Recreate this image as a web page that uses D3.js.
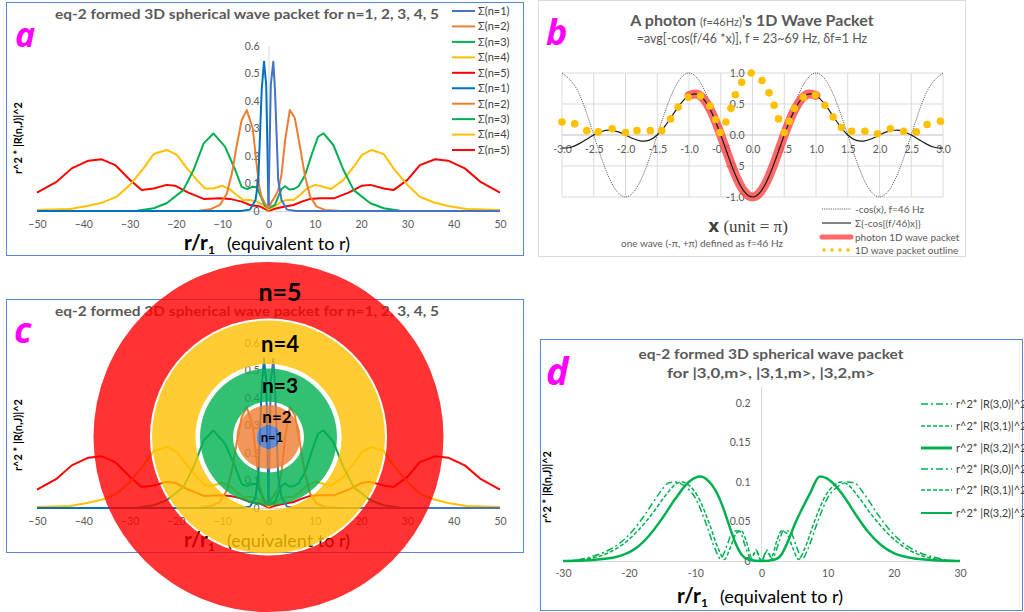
<!DOCTYPE html>
<html>
<head>
<meta charset="utf-8">
<script src="https://cdn.jsdelivr.net/npm/d3@7"></script>
<style>
  body { margin: 0; background: #fff; }
  svg { display: block; font-family: Lato, "Open Sans", sans-serif; }
</style>
</head>
<body>
<svg id="fig" width="1024" height="612"></svg>
<script>
// ---------- panel a / c data : r/r1 vs r^2*|R(n,J)|^2 ----------
var radialNames = ["Σ(n=1)", "Σ(n=2)", "Σ(n=3)", "Σ(n=4)", "Σ(n=5)"];
var radialColorsPos = ["#4472C4", "#ED7D31", "#00B050", "#FFC000", "#FF0000"];
var radialColorsNeg = ["#0070C0", "#ED7D31", "#00B050", "#FFC000", "#FF0000"];
var radialXTicks = [-50, -40, -30, -20, -10, 0, 10, 20, 30, 40, 50];
var radialYTicks = [0, 0.1, 0.2, 0.3, 0.4, 0.5, 0.6];

// right half (r >= 0)
var n1Pos = [[0,0.02],[0.5,0.46],[1.04,0.543],[1.4,0.44],[2.1,0.113],[2.8,0.04],[4,0.005],[6,0],[50,0]];
var n2Pos = [[0,0.01],[0.7,0.034],[1.4,0.052],[2.1,0.076],[2.8,0.13],[3.6,0.258],[4.6,0.367],[5.7,0.337],[6.8,0.234],[7.9,0.125],[9,0.052],[10.4,0.016],[12.2,0.004],[15,0.001],[50,0]];
var n3Pos = [[0,0.01],[1.4,0.022],[2.1,0.052],[2.8,0.08],[3.6,0.09],[4.5,0.078],[5.5,0.08],[6.5,0.09],[7.9,0.13],[9.3,0.204],[10.7,0.27],[11.9,0.282],[14,0.24],[16.2,0.149],[18.4,0.076],[22,0.028],[24.9,0.01],[28.4,0.001],[50,0]];
var n4Pos = [[0,0.004],[1.8,0.022],[2.8,0.034],[3.9,0.04],[5.4,0.04],[6.8,0.058],[8.3,0.082],[10.1,0.095],[11.8,0.088],[13.5,0.08],[16.2,0.113],[18.4,0.161],[20.2,0.204],[22.3,0.222],[24.9,0.207],[27,0.155],[30,0.095],[32.7,0.052],[35.6,0.032],[38.8,0.018],[42.7,0.007],[50,0.004]];
var n5Pos = [[0,0.001],[1.8,0.01],[3.6,0.016],[5.4,0.022],[7.2,0.034],[9,0.044],[11.1,0.046],[14.1,0.046],[17.3,0.067],[20.2,0.092],[22,0.095],[24.9,0.082],[27,0.076],[30,0.113],[32.7,0.167],[36,0.188],[38.8,0.183],[42.4,0.155],[45.7,0.107],[50,0.067]];
// left half (r <= 0)
var n1Neg = [[-50,0],[-6,0],[-4,0.005],[-2.8,0.04],[-2.2,0.113],[-1.47,0.44],[-0.97,0.543],[-0.5,0.46],[0,0.02]];
var n2Neg = [[-50,0],[-15,0.001],[-12.6,0.006],[-10.5,0.022],[-9,0.064],[-7.9,0.137],[-6.9,0.234],[-5.8,0.33],[-4.7,0.367],[-3.4,0.3],[-2.5,0.16],[-2,0.088],[-1.5,0.052],[-0.8,0.028],[0,0.01]];
var n3Neg = [[-50,0],[-28.4,0.001],[-24.8,0.01],[-22,0.028],[-18.4,0.076],[-16.2,0.149],[-14,0.246],[-11.9,0.282],[-9.4,0.234],[-7.2,0.15],[-5.8,0.088],[-4.7,0.08],[-3.4,0.088],[-2.5,0.085],[-1.8,0.058],[-0.8,0.02],[0,0.01]];
var n4Neg = [[-50,0.004],[-42.8,0.007],[-39.2,0.018],[-35.6,0.032],[-32.8,0.052],[-29.9,0.095],[-27,0.155],[-24.8,0.207],[-22,0.222],[-19.8,0.204],[-17.6,0.155],[-15.5,0.113],[-13.7,0.082],[-11.9,0.082],[-10.1,0.092],[-8.3,0.079],[-6.9,0.058],[-5.4,0.04],[-4,0.04],[-2.5,0.034],[-1.1,0.022],[0,0.004]];
var n5Neg = [[-50,0.067],[-45.7,0.107],[-42.5,0.155],[-38.9,0.183],[-36,0.188],[-33.1,0.167],[-29.9,0.113],[-27.4,0.076],[-24.8,0.082],[-22,0.095],[-20.2,0.092],[-17.3,0.067],[-14,0.044],[-10.5,0.046],[-8.3,0.044],[-5.8,0.034],[-4,0.022],[-1.8,0.016],[0,0.001]];

// ---------- panel b data : x (unit = pi) ----------
var packetXTicks = [-3, -2.5, -2, -1.5, -1, -0.5, 0, 0.5, 1, 1.5, 2, 2.5, 3];
var packetYTicks = [-1, -0.5, 0, 0.5, 1];
var cosX = [-3,-2.75,-2.5,-2.25,-2,-1.75,-1.5,-1.25,-1,-0.75,-0.5,-0.25,0,0.25,0.5,0.75,1,1.25,1.5,1.75,2,2.25,2.5,2.75,3];
var cosY = [1,0.707,0,-0.707,-1,-0.707,0,0.707,1,0.707,0,-0.707,-1,-0.707,0,0.707,1,0.707,0,-0.707,-1,-0.707,0,0.707,1];
var sumX = [-3,-2.875,-2.75,-2.625,-2.5,-2.375,-2.25,-2.125,-2,-1.875,-1.75,-1.625,-1.5,-1.375,-1.25,-1.125,-1,-0.875,-0.75,-0.625,-0.5,-0.375,-0.25,-0.125,0,
            0.125,0.25,0.375,0.5,0.625,0.75,0.875,1,1.125,1.25,1.375,1.5,1.625,1.75,1.875,2,2.125,2.25,2.375,2.5,2.625,2.75,2.875,3];
var sumY = [-0.212,-0.201,-0.151,-0.077,0,0.057,0.077,0.054,0,-0.061,-0.098,-0.083,0,0.147,0.333,0.513,0.637,0.659,0.555,0.324,0,-0.361,-0.689,-0.918,-1,
            -0.918,-0.689,-0.361,0,0.324,0.555,0.659,0.637,0.513,0.333,0.147,0,-0.083,-0.098,-0.061,0,0.054,0.077,0.057,0,-0.077,-0.151,-0.201,-0.212];
var photonX = [-1,-0.875,-0.75,-0.625,-0.5,-0.375,-0.25,-0.125,0,0.125,0.25,0.375,0.5,0.625,0.75,0.875,1];
var photonY = [0.637,0.659,0.555,0.324,0,-0.361,-0.689,-0.918,-1,-0.918,-0.689,-0.361,0,0.324,0.555,0.659,0.637];
var outlineX = [-3,-2.8,-2.61,-2.43,-2.21,-2,-1.82,-1.61,-1.43,-1.29,-1.17,-1.01,-0.82,-0.67,-0.58,-0.51,-0.42,-0.34,-0.27,-0.17,-0.02,
                0.15,0.26,0.34,0.41,0.5,0.58,0.66,0.8,0.99,1.14,1.27,1.4,1.56,1.77,1.97,2.17,2.38,2.58,2.75,2.96];
var outlineY = [0.21,0.18,0.07,0.05,0.1,0.04,0.07,0.07,0.07,0.26,0.45,0.61,0.63,0.47,0.25,0.04,0.21,0.43,0.65,0.85,1.0,
                0.88,0.68,0.48,0.26,0.04,0.22,0.43,0.61,0.64,0.48,0.29,0.12,0.06,0.06,0.02,0.1,0.06,0.05,0.17,0.22];
var packetLegend = ["-cos(x), f=46 Hz", "Σ{-cos[(f/46)x]}", "photon 1D wave packet", "1D wave packet outline"];

// ---------- panel c : shells ----------
var shellNames = ["n=5", "n=4", "n=3", "n=2", "n=1"];
var shellColors = ["#FF0000", "#FFC000", "#00B050", "#ED7D31", "#4472C4"];
var shellOuter = [175, 116.5, 68.5, 32, 12];
var shellInner = [118.5, 73, 35.5, 12, 0];

// ---------- panel d data : |3,l,m> ----------
var d30 = [[-30,0],[-27.5,0.002],[-25.5,0.006],[-23.5,0.012],[-21.5,0.022],[-19.5,0.038],[-17.5,0.06],[-15.5,0.085],[-14,0.099],[-13,0.1],[-11.5,0.094],[-10,0.08],[-8.5,0.05],[-7,0.015],[-6.2,0.003],[-5.2,0.02],[-4.3,0.038],[-3.3,0.038],[-2.5,0.02],[-1.6,0.003],[-0.8,0.014],[0,0],
           [0.8,0.014],[1.6,0.003],[2.5,0.02],[3.3,0.038],[4.3,0.038],[5.2,0.02],[6.2,0.003],[7,0.015],[8.5,0.05],[10,0.08],[11.5,0.094],[13,0.1],[14,0.099],[15.5,0.085],[17.5,0.06],[19.5,0.038],[21.5,0.022],[23.5,0.012],[25.5,0.006],[27.5,0.002],[30,0]];
var d31 = [[-30,0],[-27,0.002],[-24.5,0.006],[-22.5,0.013],[-20.5,0.024],[-18.5,0.04],[-16.5,0.06],[-14.5,0.083],[-13,0.097],[-12,0.1],[-11,0.096],[-9.5,0.08],[-8,0.05],[-6.5,0.015],[-5.6,0.002],[-4.8,0.015],[-3.8,0.035],[-3,0.038],[-2.3,0.025],[-1.5,0.005],[-0.8,0.012],[0,0],
           [0.8,0.012],[1.5,0.005],[2.3,0.025],[3,0.038],[3.8,0.035],[4.8,0.015],[5.6,0.002],[6.5,0.015],[8,0.05],[9.5,0.08],[11,0.096],[12,0.1],[13,0.097],[14.5,0.083],[16.5,0.06],[18.5,0.04],[20.5,0.024],[22.5,0.013],[24.5,0.006],[27,0.002],[30,0]];
var d32 = [[-30,0],[-26,0.001],[-22,0.005],[-19,0.016],[-17,0.032],[-15,0.054],[-13,0.079],[-11,0.1],[-9.2,0.107],[-8,0.101],[-7,0.09],[-6,0.072],[-5,0.048],[-4,0.024],[-3,0.008],[-2,0.002],[0,0],
           [2,0.002],[3,0.008],[4,0.025],[5,0.046],[6,0.064],[7.3,0.085],[8.8,0.107],[9.8,0.105],[11,0.097],[12.6,0.08],[14.3,0.058],[16.1,0.037],[18.1,0.02],[20,0.01],[22.5,0.004],[26,0.001],[30,0]];
var shellLegend = ["r^2* |R(3,0)|^2", "r^2* |R(3,1)|^2", "r^2* |R(3,2)|^2", "r^2* |R(3,0)|^2", "r^2* |R(3,1)|^2", "r^2* |R(3,2)|^2"];
var shellXTicks = [-30, -20, -10, 0, 10, 20, 30];
var shellYTicks = [0, 0.05, 0.1, 0.15, 0.2];

var svg = d3.select("#fig");
var tickGray = "#595959";

//Styles an axis made without tick marks, Excel look
function styleAxis(g, domainColor) {
  g.select(".domain").attr("stroke", domainColor);
  g.selectAll(".tick line").remove();
  g.selectAll(".tick text").attr("fill", tickGray).attr("font-size", 10.5)
    .attr("font-family", "Lato, sans-serif");
}

//Adds "r/r1   (equivalent to r)" axis title
function addRTitle(g, cx, y) {
  var t = g.append("text").attr("x", cx).attr("y", y).attr("text-anchor", "middle").attr("fill", "#000");
  t.append("tspan").attr("font-weight", "bold").attr("font-size", 21).text("r/r");
  t.append("tspan").attr("font-weight", "bold").attr("font-size", 12).attr("dy", 4).text("1");
  t.append("tspan").attr("font-size", 18).attr("dy", -4).attr("dx", 12).text("(equivalent  to r)");
  return t;
}

//Panel label in magenta
function addLetter(x, y, s, size) {
  svg.append("text").attr("x", x).attr("y", y).attr("font-size", size).attr("font-weight", "bold")
    .attr("font-style", "italic").attr("fill", "#FF00FF").attr("font-family", "'Open Sans', sans-serif").text(s);
}

//Draws the n=1..5 radial plot (used for a, and shifted for c)
function drawRadial(dy, withLegend) {
  var g = svg.append("g").attr("transform", "translate(0," + dy + ")");
  var x = d3.scaleLinear().domain([-50, 50]).range([37, 500]);
  var y = d3.scaleLinear().domain([0, 0.6]).range([211, 46]);

  g.append("rect").attr("x", 6.5).attr("y", 2.5).attr("width", 517).attr("height", 253)
    .attr("fill", "none").attr("stroke", "#5B87CF");

  g.append("text").attr("x", 247).attr("y", 19).attr("text-anchor", "middle")
    .attr("font-size", 14).attr("font-weight", "bold").attr("fill", tickGray)
    .attr("textLength", 384).attr("lengthAdjust", "spacingAndGlyphs")
    .text("eq-2 formed 3D spherical wave packet for n=1, 2, 3, 4, 5");

  var xa = g.append("g").attr("transform", "translate(0," + y(0) + ")")
    .call(d3.axisBottom(x).tickValues(radialXTicks).tickSize(0).tickPadding(10).tickFormat(d3.format("d")));
  styleAxis(xa, "#D9D9D9");
  var ya = g.append("g").attr("transform", "translate(" + x(0) + ",0)")
    .call(d3.axisLeft(y).tickValues(radialYTicks).tickSize(0).tickPadding(9).tickFormat(function(d){ return d === 0 ? "0" : d3.format(".1f")(d); }));
  styleAxis(ya, "#D9D9D9");

  g.append("text").attr("transform", "translate(22,138) rotate(-90)").attr("text-anchor", "middle")
    .attr("font-size", 11).attr("font-weight", "bold").attr("fill", "#000").text("r^2 *  |R(n,J)|^2");
  addRTitle(g, 267, 250);

  var line = d3.line().x(function(d){ return x(d[0]); }).y(function(d){ return y(d[1]); });
  var pos = [n1Pos, n2Pos, n3Pos, n4Pos, n5Pos];
  var neg = [n1Neg, n2Neg, n3Neg, n4Neg, n5Neg];
  // draw n=5 first so the narrow peaks sit on top
  for (var i = 4; i >= 0; i--) {
    g.append("path").datum(neg[i]).attr("d", line).attr("fill", "none")
      .attr("stroke", radialColorsNeg[i]).attr("stroke-width", 2).attr("stroke-linejoin", "round");
    g.append("path").datum(pos[i]).attr("d", line).attr("fill", "none")
      .attr("stroke", radialColorsPos[i]).attr("stroke-width", 2).attr("stroke-linejoin", "round");
  }

  if (withLegend) {
    var cols = radialColorsPos.concat(radialColorsNeg);
    var names = radialNames.concat(radialNames);
    var lg = g.append("g");
    names.forEach(function(nm, k) {
      var ly = 11 + k * 15.45;
      lg.append("line").attr("x1", 452).attr("x2", 475).attr("y1", ly).attr("y2", ly)
        .attr("stroke", cols[k]).attr("stroke-width", 2);
      lg.append("text").attr("x", 478).attr("y", ly).attr("dy", "0.35em").attr("font-size", 11)
        .attr("fill", "#404040").text(nm);
    });
  }
  return {g: g, x: x, y: y};
}

// ---------------- panel a ----------------
drawRadial(0, true);
addLetter(15, 47, "a", 34);

// ---------------- panel b ----------------
(function() {
  var g = svg.append("g");
  var x = d3.scaleLinear().domain([-3, 3]).range([562, 943]);
  var y = d3.scaleLinear().domain([-1, 1]).range([197, 73]);

  g.append("rect").attr("x", 538.5).attr("y", 0.5).attr("width", 427).attr("height", 256)
    .attr("fill", "none").attr("stroke", "#D9D9D9");

  var title = g.append("text").attr("x", 752).attr("y", 26).attr("text-anchor", "middle").attr("fill", tickGray);
  title.append("tspan").attr("font-size", 16).attr("font-weight", "bold").text("A photon ");
  title.append("tspan").attr("font-size", 11).text("(f=46Hz)");
  title.append("tspan").attr("font-size", 16).attr("font-weight", "bold").text("'s 1D Wave Packet");
  g.append("text").attr("x", 752).attr("y", 43).attr("text-anchor", "middle").attr("font-size", 12.5)
    .attr("fill", tickGray).text("=avg[-cos(f/46 *x)], f = 23~69 Hz, δf=1 Hz");

  // gridlines
  g.selectAll("line.vg").data(packetXTicks).enter().append("line")
    .attr("x1", function(d){ return x(d); }).attr("x2", function(d){ return x(d); })
    .attr("y1", y(1)).attr("y2", y(-1)).attr("stroke", "#D9D9D9");
  g.selectAll("line.hg").data(packetYTicks).enter().append("line")
    .attr("y1", function(d){ return y(d); }).attr("y2", function(d){ return y(d); })
    .attr("x1", x(-3)).attr("x2", x(3)).attr("stroke", function(d){ return d === 0 ? "#BFBFBF" : "#D9D9D9"; });

  var xa = g.append("g").attr("transform", "translate(0," + y(0) + ")")
    .call(d3.axisBottom(x).tickValues(packetXTicks).tickSize(0).tickPadding(11).tickFormat(d3.format(".1f")));
  styleAxis(xa, "none");
  var ya = g.append("g").attr("transform", "translate(" + x(0) + ",0)")
    .call(d3.axisLeft(y).tickValues(packetYTicks).tickSize(0).tickPadding(8).tickFormat(d3.format(".1f")));
  styleAxis(ya, "none");
  g.selectAll(".tick text").text(function(){ return this.textContent.replace("−", "-"); });

  var cosPts = cosX.map(function(v, i){ return [v, cosY[i]]; });
  var sumPts = sumX.map(function(v, i){ return [v, sumY[i]]; });
  var phPts = photonX.map(function(v, i){ return [v, photonY[i]]; });
  var line = d3.line().x(function(d){ return x(d[0]); }).y(function(d){ return y(d[1]); }).curve(d3.curveNatural);

  g.append("path").datum(cosPts).attr("d", line).attr("fill", "none").attr("stroke", "#404040")
    .attr("stroke-width", 0.8).attr("stroke-dasharray", "1.2,1");
  g.append("path").datum(phPts).attr("d", line).attr("fill", "none").attr("stroke", "#FF4F4F")
    .attr("stroke-opacity", 0.85).attr("stroke-width", 9).attr("stroke-linecap", "round").attr("stroke-linejoin", "round");
  g.append("path").datum(sumPts).attr("d", line).attr("fill", "none").attr("stroke", "#1a1a1a").attr("stroke-width", 1.2);
  g.selectAll("circle.ol").data(outlineX).enter().append("circle")
    .attr("cx", function(d){ return x(d); }).attr("cy", function(d, i){ return y(outlineY[i]); })
    .attr("r", 3.8).attr("fill", "#FFC000");

  // axis titles
  var xt = g.append("text").attr("x", 748).attr("y", 232).attr("text-anchor", "middle")
    .attr("font-family", "'Liberation Serif', 'DejaVu Serif', serif").attr("fill", "#404040");
  xt.append("tspan").attr("font-size", 17).attr("font-weight", "bold").attr("font-family", "'DejaVu Sans', sans-serif").text("x");
  xt.append("tspan").attr("font-size", 17).text(" (unit = π)");
  g.append("text").attr("x", 702).attr("y", 247).attr("text-anchor", "middle").attr("font-size", 10)
    .attr("fill", tickGray).text("one wave (-π, +π) defined as f=46 Hz");

  // legend
  var ly = [209, 223, 237, 250];
  g.append("line").attr("x1", 822).attr("x2", 851).attr("y1", ly[0]).attr("y2", ly[0])
    .attr("stroke", "#404040").attr("stroke-width", 0.8).attr("stroke-dasharray", "1.2,1");
  g.append("line").attr("x1", 822).attr("x2", 851).attr("y1", ly[1]).attr("y2", ly[1])
    .attr("stroke", "#404040").attr("stroke-width", 1.3);
  g.append("line").attr("x1", 822).attr("x2", 851).attr("y1", ly[2]).attr("y2", ly[2])
    .attr("stroke", "#FF4F4F").attr("stroke-opacity", 0.85).attr("stroke-width", 5).attr("stroke-linecap", "round");
  [824, 832, 840, 848].forEach(function(cx) {
    g.append("circle").attr("cx", cx).attr("cy", ly[3]).attr("r", 1.8).attr("fill", "#FFC000");
  });
  packetLegend.forEach(function(s, k) {
    g.append("text").attr("x", 855).attr("y", ly[k]).attr("dy", "0.35em").attr("font-size", 10)
      .attr("fill", tickGray).text(s);
  });
})();
addLetter(546, 45, "b", 36);

// ---------------- panel c ----------------
var c = drawRadial(297, false);
addLetter(14, 343, "c", 36);
(function() {
  var cx = c.x(0), cy = 437;
  var arc = d3.arc().startAngle(0).endAngle(2 * Math.PI);
  var sg = svg.append("g").attr("transform", "translate(" + cx + "," + cy + ")");
  shellNames.forEach(function(nm, i) {
    sg.append("path").attr("d", arc({innerRadius: shellInner[i], outerRadius: shellOuter[i]}))
      .attr("fill", shellColors[i]).attr("fill-opacity", 0.8);
  });
  var labelY = [301, 352, 393, 423, 442];
  var labelX = [280, 280, 280, 277, 272];
  var labelSize = [25, 22, 21, 17, 13];
  shellNames.forEach(function(nm, i) {
    svg.append("text").attr("x", labelX[i]).attr("y", labelY[i]).attr("text-anchor", "middle")
      .attr("font-size", labelSize[i]).attr("font-weight", "bold").attr("fill", "#000").text(nm);
  });
})();

// ---------------- panel d ----------------
(function() {
  var g = svg.append("g");
  var x = d3.scaleLinear().domain([-30, 30]).range([563, 960]);
  var y = d3.scaleLinear().domain([0, 0.2]).range([561, 403]);

  g.append("rect").attr("x", 540.5).attr("y", 339.5).attr("width", 482).attr("height", 271)
    .attr("fill", "none").attr("stroke", "#5B87CF");

  g.append("text").attr("x", 771).attr("y", 359).attr("text-anchor", "middle").attr("font-size", 14)
    .attr("font-weight", "bold").attr("fill", tickGray).attr("textLength", 265).attr("lengthAdjust", "spacingAndGlyphs")
    .text("eq-2 formed 3D spherical wave packet");
  g.append("text").attr("x", 771).attr("y", 378).attr("text-anchor", "middle").attr("font-size", 14)
    .attr("font-weight", "bold").attr("fill", tickGray).attr("textLength", 208).attr("lengthAdjust", "spacingAndGlyphs")
    .text("for |3,0,m>, |3,1,m>, |3,2,m>");

  var xa = g.append("g").attr("transform", "translate(0," + y(0) + ")")
    .call(d3.axisBottom(x).tickValues(shellXTicks).tickSize(0).tickPadding(9).tickFormat(d3.format("d")));
  styleAxis(xa, "#D9D9D9");
  g.append("line").attr("x1", x(0)).attr("x2", x(0)).attr("y1", y(0)).attr("y2", y(0.22)).attr("stroke", "#D9D9D9");
  var ya = g.append("g").attr("transform", "translate(" + x(0) + ",0)")
    .call(d3.axisLeft(y).tickValues(shellYTicks).tickSize(0).tickPadding(11).tickFormat(function(d){ return d === 0 ? "0" : String(d); }));
  styleAxis(ya, "none");
  g.selectAll(".tick text").text(function(){ return this.textContent.replace("−", "-"); });

  g.append("text").attr("transform", "translate(551,487) rotate(-90)").attr("text-anchor", "middle")
    .attr("font-size", 11).attr("font-weight", "bold").attr("fill", "#000").text("r^2 *  |R(n,J)|^2");
  addRTitle(g, 760, 603);

  var line = d3.line().x(function(d){ return x(d[0]); }).y(function(d){ return y(d[1]); }).curve(d3.curveMonotoneX);
  var green = "#00B050";
  var dashes = ["7,3,2,3", "4,2", null];
  var widths = [1.5, 1.5, 2.5];
  [d30, d31, d32].forEach(function(s, i) {
    g.append("path").datum(s).attr("d", line).attr("fill", "none").attr("stroke", green)
      .attr("stroke-width", widths[i]).attr("stroke-dasharray", dashes[i]);
  });

  var lyd = [404, 426, 448, 469, 490, 513];
  var lDash = ["7,3,2,3", "4,2", null, "7,3,2,3", "4,2", null];
  var lWidth = [1.5, 1.5, 3, 1.5, 1.5, 2];
  shellLegend.forEach(function(s, k) {
    g.append("line").attr("x1", 921).attr("x2", 952).attr("y1", lyd[k]).attr("y2", lyd[k])
      .attr("stroke", green).attr("stroke-width", lWidth[k]).attr("stroke-dasharray", lDash[k]);
    g.append("text").attr("x", 956).attr("y", lyd[k]).attr("dy", "0.35em").attr("font-size", 11)
      .attr("fill", "#404040").text(s);
  });
})();
addLetter(546, 385, "d", 38);
</script>
</body>
</html>
